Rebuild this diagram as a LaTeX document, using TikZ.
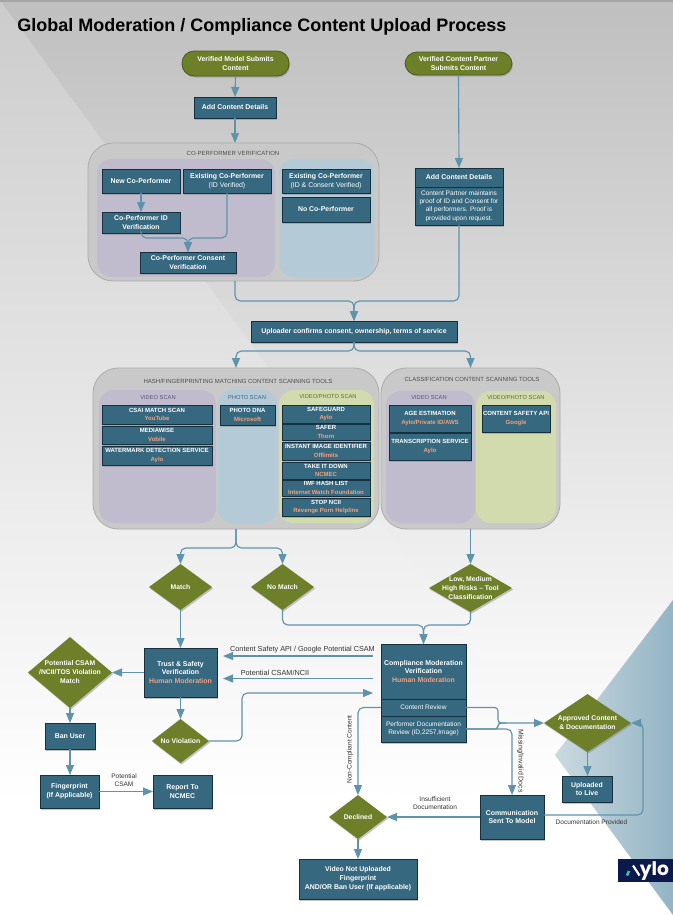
\documentclass[tikz,border=0pt]{standalone}
\usepackage{fontspec}
\setmainfont{Liberation Sans}
\newfontfamily\logofont{Poppins}
\usetikzlibrary{shapes.geometric,shadows,arrows.meta,calc}
\definecolor{boxfill}{HTML}{36687F}
\definecolor{boxline}{HTML}{17303F}
\definecolor{olive}{HTML}{6E7F2A}
\definecolor{olivel}{HTML}{4D5A1C}
\definecolor{conn}{HTML}{5F93AB}
\definecolor{grp}{HTML}{C9C9C9}
\definecolor{grpl}{HTML}{ABABAB}
\definecolor{lav}{HTML}{C0BCCE}
\definecolor{sky}{HTML}{B4CBD7}
\definecolor{lime}{HTML}{D2DBAD}
\definecolor{ora}{HTML}{F2A27E}
\definecolor{lavt}{HTML}{5B4F78}
\definecolor{skyt}{HTML}{3F6478}
\definecolor{limet}{HTML}{5F6B2C}
\definecolor{navy}{HTML}{0C1A4B}
\definecolor{tealdot}{HTML}{3FC4B4}
\definecolor{triL}{HTML}{CBD9E0}
\definecolor{triR}{HTML}{93B4C4}
\tikzset{
  basebox/.style={rectangle,inner sep=0pt,outer sep=0pt,align=center,text=white},
  box/.style={basebox,fill=boxfill,draw=boxline,line width=.6pt,
    font=\fontsize{5.2}{6.7}\selectfont\bfseries,
    drop shadow={shadow xshift=.8pt,shadow yshift=-1.2pt,opacity=.45}},
  toolbox/.style={box,font=\fontsize{4.5}{6.3}\selectfont\bfseries},
  pill/.style={box,fill=olive,draw=olivel,rounded corners=9pt},
  thin/.style={box,font=\fontsize{4.9}{6.3}\selectfont},
  grpbox/.style={rectangle,outer sep=0pt,fill=grp,draw=grpl,line width=.6pt,rounded corners=19pt},
  lane/.style={rectangle,outer sep=0pt,rounded corners=11pt},
  grptitle/.style={font=\fontsize{4.5}{5}\selectfont,text=black!70,inner sep=0pt},
  lanetitle/.style={font=\fontsize{4.3}{5}\selectfont,inner sep=0pt},
  dia/.style={diamond,aspect=1,inner sep=0pt,outer sep=0pt,fill=olive,text=white,
    font=\fontsize{5.1}{6.8}\selectfont\bfseries,
    drop shadow={shadow xshift=.8pt,shadow yshift=-1.2pt,opacity=.45}},
  edgelab/.style={font=\fontsize{4.9}{6.5}\selectfont,text=black!80,inner sep=0pt,align=center},
  flow/.style={draw=conn,line width=.85pt,rounded corners=4pt},
  arrow/.style={flow,-{Triangle[width=6pt,length=7.5pt,fill=conn]}},
}
\newcommand{\bx}[7][box]{%
  \pgfmathsetmacro\bxcx{(#3+#5)/2}\pgfmathsetmacro\bxcy{(#4+#6)/2}%
  \node[#1,minimum width={(#5-#3)*0.75pt},minimum height={(#6-#4)*0.75pt}] (#2) at (\bxcx,\bxcy) {#7};}
\newcommand{\dm}[6]{%
  \pgfmathsetmacro\bxcx{(#2+#4)/2}\pgfmathsetmacro\bxcy{(#3+#5)/2}%
  \node[dia,minimum width={(#4-#2)*0.75pt},minimum height={(#5-#3)*0.75pt}] (#1) at (\bxcx,\bxcy)
   {\makebox[0pt][c]{\smash{\raisebox{-.3em}{\begin{tabular}{@{}c@{}}#6\end{tabular}}}}};}
\newcommand{\hl}[1]{\textcolor{ora}{#1}}
\begin{document}
\begin{tikzpicture}[x=0.75pt,y=-0.75pt]
\useasboundingbox (0,0) rectangle (673,915);
% background
\fill[white] (0,0) rectangle (673,915);
\shade[top color=black!20,bottom color=white] (0,0) rectangle (673,800);
\shade[top color=black!25,bottom color=black!3] (0,0) -- (673,0) -- (673,660) -- (482,660) -- cycle;
\shade[left color=triL,right color=triR] (673,600) -- (555,755) -- (673,915) -- cycle;
\fill[black!35] (0,0) rectangle (673,1.5);
% title
\node[anchor=west,inner sep=0pt,font=\fontsize{13.5}{15}\selectfont\bfseries,text=black] (title) at (17,26.5)
  {Global Moderation / Compliance Content Upload Process};
% logo
\bx[rectangle,fill=navy,inner sep=0pt,outer sep=0pt]{logo}{618}{859}{673}{882}{}
\node[anchor=base west,inner sep=0pt,text=white,font=\logofont\bfseries\fontsize{14}{14}\selectfont] (logot) at (639.5,875.5) {ylo};
\draw[white,line width=1.6pt] (633,865.5) -- (639.5,875.5);
\draw[tealdot,line width=1.9pt] (627,875.5) -- (629,871);
% groups
\bx[grpbox]{cp}{88}{143}{379}{281}{}
\bx[lane,fill=lav]{cpa}{97}{159}{275}{277}{}
\bx[lane,fill=sky]{cpb}{279}{159}{374}{277}{}
\node[grptitle] (cpt) at (233,153) {CO-PERFORMER VERIFICATION};
\bx[grpbox]{hash}{93}{368}{379}{529}{}
\bx[lane,fill=lav]{hasha}{99}{390}{216}{523}{}
\bx[lane,fill=sky]{hashb}{218}{390}{277}{523}{}
\bx[lane,fill=lime]{hashc}{279}{390}{374}{523}{}
\node[grptitle] (hasht) at (238,381) {HASH/FINGERPRINTING MATCHING CONTENT SCANNING TOOLS};
\node[lanetitle,text=lavt] (hashat) at (158,398) {VIDEO SCAN};
\node[lanetitle,text=skyt] (hashbt) at (247,397.5) {PHOTO SCAN};
\node[lanetitle,text=limet] (hashct) at (328,396.5) {VIDEO/PHOTO SCAN};
\bx[grpbox]{cls}{381}{368}{560}{529}{}
\bx[lane,fill=lav]{clsa}{386}{391}{475}{523}{}
\bx[lane,fill=lime]{clsb}{476}{391}{556}{523}{}
\node[grptitle] (clst) at (472,379.5) {CLASSIFICATION CONTENT SCANNING TOOLS};
\node[lanetitle,text=lavt] (clsat) at (429,397.5) {VIDEO SCAN};
\node[lanetitle,text=limet] (clsbt) at (516,397.5) {VIDEO/PHOTO SCAN};
% top
\bx[pill]{s1}{182}{51}{289}{76}{Verified Model Submits\\Content}
\bx{add1}{194}{97}{276}{118}{Add Content Details}
\bx[pill]{s2}{405}{52}{512}{75}{Verified Content Partner\\Submits Content}
\bx{add2}{415}{168}{503}{187}{Add Content Details}
\bx[thin]{add2b}{415}{187}{503}{225}{Content Partner maintains\\proof of ID and Consent for\\all performers. Proof is\\provided upon request.}
% co-performer
\bx{cnew}{102}{169}{180}{193}{New Co-Performer}
\bx{cex1}{183}{169}{271}{193}{Existing Co-Performer\\\mdseries (ID Verified)}
\bx{cex2}{282}{169}{370}{193}{Existing Co-Performer\\\mdseries (ID \& Consent Verified)}
\bx{cno}{282}{197}{370}{222}{No Co-Performer}
\bx{cid}{102}{212}{180}{233}{Co-Performer ID\\Verification}
\bx{ccons}{140}{252}{236}{273}{Co-Performer Consent\\Verification}
% uploader
\bx{upl}{251}{321}{457}{342}{Uploader confirms consent, ownership, terms of service}
% tools
\bx[toolbox]{t1}{102}{405}{212}{424}{CSAI MATCH SCAN\\\hl{YouTube}}
\bx[toolbox]{t2}{102}{426}{212}{444}{MEDIAWISE\\\hl{Vobile}}
\bx[toolbox]{t3}{102}{446}{212}{465}{WATERMARK DETECTION SERVICE\\\hl{Aylo}}
\bx[toolbox]{t4}{220}{405}{275}{425}{PHOTO DNA\\\hl{Microsoft}}
\bx[toolbox]{t5}{282}{405}{370}{423}{SAFEGUARD\\\hl{Aylo}}
\bx[toolbox]{t6}{282}{424}{370}{440}{SAFER\\\hl{Thorn}}
\bx[toolbox]{t7}{282}{442}{370}{460}{INSTANT IMAGE IDENTIFIER\\\hl{Offlimits}}
\bx[toolbox]{t8}{282}{462}{370}{479}{TAKE IT DOWN\\\hl{NCMEC}}
\bx[toolbox]{t9}{282}{480}{370}{496}{IWF HASH LIST\\\hl{Internet Watch Foundation}}
\bx[toolbox]{t10}{282}{498}{370}{516}{STOP NCII\\\hl{Revenge Porn Helpline}}
\bx[toolbox]{t11}{389}{405}{471}{432}{AGE ESTIMATION\\\hl{Aylo/Private ID/AWS}}
\bx[toolbox]{t12}{389}{433}{471}{460}{TRANSCRIPTION SERVICE\\\hl{Aylo}}
\bx[toolbox]{t13}{482}{405}{550}{432}{CONTENT SAFETY API\\\hl{Google}}
% diamonds
\dm{dmatch}{149}{564}{212}{610}{Match}
\dm{dno}{251}{564}{314}{610}{No Match}
\dm{dlow}{429}{564}{512}{612}{Low, Medium\\High Risks -- Tool\\Classification}
\dm{dpot}{28}{637}{112}{708}{Potential CSAM\\/NCII/TOS Violation\\Match}
\dm{dnov}{152}{719}{209}{763}{No Violation}
\dm{dapp}{544}{694}{631}{752}{Approved Content\\\& Documentation}
\dm{ddec}{329}{795}{387}{839}{Declined}
% boxes lower
\bx{ts}{144}{648}{217}{697}{Trust \& Safety\\Verification\\\hl{Human Moderation}}
\bx{ban}{45}{723}{95}{749}{Ban User}
\bx{fp}{40}{775}{99}{808}{Fingerprint\\(If Applicable)}
\bx{rep}{153}{775}{212}{808}{Report To\\NCMEC}
\bx{comp}{381}{644}{466}{699}{Compliance Moderation\\Verification\\\hl{Human Moderation}}
\bx[thin]{compcr}{381}{699}{466}{716}{Content Review}
\bx[thin]{compdoc}{381}{716}{466}{742}{Performer Documentation\\Review (ID,2257,Image)}
\bx{upd}{562}{776}{612}{802}{Uploaded\\to Live}
\bx{comm}{480}{795}{544}{839}{Communication\\Sent To Model}
\bx{vid}{299}{859}{417}{899}{Video Not Uploaded\\Fingerprint\\AND/OR Ban User (If applicable)}
% free ends
\coordinate (m1) at (354,301);
\coordinate (f1) at (354,351);
\coordinate (f2) at (236,548);
\coordinate (m2) at (423.5,625);
\coordinate (j1) at (188,238);
\coordinate (a1s) at (373,656);
\coordinate (a1e) at (223,656);
\coordinate (a2s) at (373,678.5);
\coordinate (a2e) at (223,678.5);
\coordinate (a3c) at (242,693);
\coordinate (a3e) at (373,693);
\coordinate (j2) at (498,723);
\coordinate (crc) at (498,707.5);
\coordinate (docs) at (466,729);
\coordinate (docc) at (498,729);
\coordinate (comms) at (544,815);
\coordinate (loopa) at (643,815);
\coordinate (loopb) at (643,723);
% connectors
\draw[arrow] (s1.south) -- (add1.north);
\draw[arrow] (add1.south) -- (add1.south |- cp.north);
\draw[arrow] (s2.south) -- (add2.north);
\draw[arrow] (cnew.south) -- (cid.north);
\draw[arrow] (cid.south) |- (j1) -- (ccons.north);
\draw[arrow] (cex1.south) |- (j1) -- (ccons.north);
\draw[arrow] (add1.south |- cp.south) |- (m1) -- (m1 |- upl.north);
\draw[arrow] (add2b.south) |- (m1) -- (m1 |- upl.north);
\draw[arrow] (f1 |- upl.south) -- (f1) -| (f2 |- hash.north);
\draw[arrow] (f1 |- upl.south) -- (f1) -| (dlow.north |- cls.north);
\draw[arrow] (f2 |- hash.south) -- (f2) -| (dmatch.north);
\draw[arrow] (f2 |- hash.south) -- (f2) -| (dno.north);
\draw[arrow] (dlow.north |- cls.south) -- (dlow.north);
\draw[arrow] (dmatch.south) -- (dmatch.south |- ts.north);
\draw[arrow] (dno.south) |- (m2) -- (m2 |- comp.north);
\draw[arrow] (dlow.south) |- (m2) -- (m2 |- comp.north);
\draw[arrow] (a1s) -- (a1e);
\draw[arrow] (a2s) -- (a2e);
\draw[arrow] (dnov.east) -| (a3c) -- (a3e);
\draw[arrow] (ts.west |- dpot.east) -- (dpot.east);
\draw[arrow] (dpot.south) -- (dpot.south |- ban.north);
\draw[arrow] (ban.south) -- (ban.south |- fp.north);
\draw[arrow] (fp.east) -- (rep.west);
\draw[arrow] (dmatch.south |- ts.south) -- (dmatch.south |- dnov.north);
\draw[arrow] (compcr.west) -| (ddec.north);
\draw[arrow,rounded corners=2.5pt] (compcr.east) -- (crc) -- (j2) -- (dapp.west);
\draw[flow,rounded corners=2.5pt] (docs) -- (docc) -- (j2) -- ++(8,0);
\draw[arrow] (docs) -| (comm.north);
\draw[arrow] (comm.west) -- (ddec.east);
\draw[arrow] (ddec.south) -- (ddec.south |- vid.north);
\draw[arrow] (dapp.south) -- (dapp.south |- upd.north);
\draw[arrow] (comms) -- (loopa) -- (loopb) -- (dapp.east);
% labels
\node[edgelab,font=\fontsize{5.45}{6.5}\selectfont] (l1) at (302.5,650) {Content Safety API / Google Potential CSAM};
\node[edgelab,font=\fontsize{5.5}{6.5}\selectfont] (l2) at (275,672.5) {Potential CSAM/NCII};
\node[edgelab] (l3) at (124,780) {Potential\\CSAM};
\node[edgelab,rotate=90] (l4) at (350,749.5) {Non-Compliant Content};
\node[edgelab,rotate=-90,font=\fontsize{5.2}{6}\selectfont] (l5) at (520.5,761) {Missing/Invalid Docs};
\node[edgelab] (l6) at (435,803) {Insufficient\\Documentation};
\node[edgelab] (l7) at (591.5,822.5) {Documentation Provided};
\end{tikzpicture}
\end{document}
